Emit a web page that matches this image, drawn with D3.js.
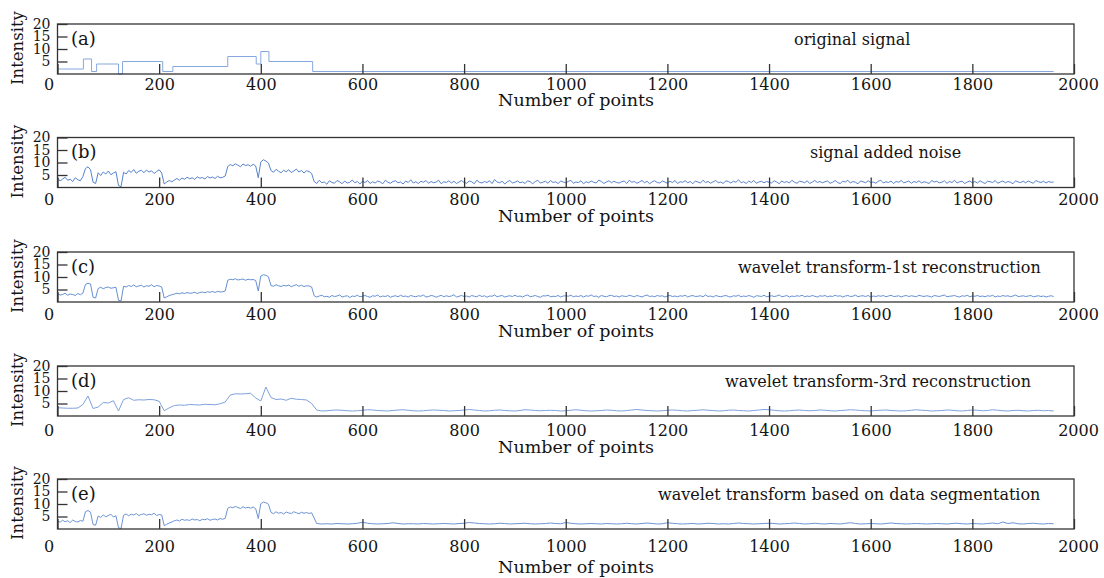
<!DOCTYPE html>
<html>
<head>
<meta charset="utf-8">
<title>Wavelet denoising</title>
<script src="https://cdn.jsdelivr.net/npm/d3@7"></script>
<style>
	body { margin: 0; background: #fff; }
	svg text { font-family: "DejaVu Serif", serif; fill: #141414; }
</style>
</head>
<body>
<div id="root"></div>
<script>
// axis ticks
const xTicks = [0, 200, 400, 600, 800, 1000, 1200, 1400, 1600, 1800, 2000];
const yTicks = [5, 10, 15, 20];

const panelLabels = ["(a)", "(b)", "(c)", "(d)", "(e)"];
const panelTitles = [
	"original signal",
	"signal added noise",
	"wavelet transform-1st reconstruction",
	"wavelet transform-3rd reconstruction",
	"wavelet transform based on data segmentation"
];

// (a) original signal, piecewise constant: start point and level of each segment
const origStarts = [0, 51, 67, 77, 120, 128, 207, 227, 335, 391, 400, 416, 502, 1960];
const origLevels = [2, 6, 1, 4, 0, 5, 1, 3, 7, 4, 9, 5, 1, 1];

// (b) signal added noise, one value every 5 points
const noisyValues = [
	3.8,2.6,3.4,4.1,2.9,3.3,2.4,3.9,3.1,2.7,4.4,
	7.6,8.3,7.1,
	2.1,1.6,
	5.9,4.8,6.2,5.4,6.6,5.1,5.8,6.3,
	0.8,0.3,
	6.1,5.4,6.8,6.0,7.2,5.7,6.5,6.9,5.9,7.0,6.2,6.7,5.6,6.4,7.1,5.8,
	1.4,2.2,2.8,2.3,
	3.0,3.6,2.9,3.8,3.3,4.1,3.5,3.9,3.2,4.3,3.7,4.0,3.4,4.4,3.8,4.2,3.6,4.5,3.9,4.1,4.6,
	8.4,9.2,8.7,9.5,8.9,8.3,9.4,8.8,9.1,8.5,9.3,8.6,
	3.9,
	10.2,11.1,10.6,9.8,
	6.8,6.1,7.3,6.5,5.9,6.9,6.3,7.1,6.0,6.6,7.4,6.2,6.8,5.8,6.7,6.4,5.6,
	2.4,1.6,2.9,1.9,2.2,1.3,2.7,2.0,1.7,2.8,2.3,1.5,2.6,1.8,2.1,3.0,1.9,2.4,1.4,2.5,
	2.0,2.8,1.6,2.3,1.8,2.6,2.2,1.5,2.9,2.1,1.7,2.4,2.7,1.9,2.2,1.4,2.6,2.0,3.1,1.8,
	2.3,1.6,2.5,2.1,2.8,1.7,2.4,1.9,2.2,2.9,1.5,2.3,2.0,2.7,1.8,2.5,1.6,2.2,2.8,2.0,
	1.7,2.6,2.3,1.5,2.9,2.1,1.8,2.4,2.0,2.7,1.6,3.2,2.2,1.9,2.5,1.4,2.3,2.8,1.8,2.1,
	2.6,1.9,2.2,1.6,2.7,2.3,1.5,2.4,2.9,1.8,2.1,2.5,1.7,2.8,2.0,2.3,1.6,2.6,2.2,1.9,
	2.4,2.9,1.7,2.2,2.0,2.7,1.5,2.3,1.9,2.6,2.1,1.8,3.0,2.4,1.6,2.2,2.7,1.9,2.5,2.0,
	1.8,2.3,2.6,1.6,2.9,2.1,2.4,1.7,2.2,2.8,1.9,2.5,1.5,2.3,2.7,2.0,1.8,2.6,2.2,1.7,
	2.5,2.0,2.8,1.6,2.3,2.1,2.7,1.9,2.4,1.5,2.6,2.2,1.8,2.9,2.0,2.4,1.7,2.3,2.8,1.9,
	2.2,1.6,2.7,2.4,1.8,2.5,2.1,3.1,1.9,2.3,1.6,2.6,2.0,2.8,1.7,2.2,2.5,1.9,2.4,2.1,
	1.8,2.7,2.2,1.5,2.6,2.0,2.4,1.8,2.9,2.1,1.7,2.5,2.3,1.9,2.7,1.6,2.2,2.8,2.0,2.4,
	1.9,2.3,2.6,1.7,2.1,2.8,2.0,1.6,2.5,2.2,2.9,1.8,2.4,2.1,1.5,2.6,2.3,1.9,2.7,2.0,
	2.2,1.7,2.5,2.9,1.8,2.3,2.0,2.6,1.6,2.4,2.1,2.8,1.9,2.2,2.6,1.7,2.4,2.0,2.7,1.8,
	2.3,2.0,1.6,2.8,2.2,2.5,1.9,2.1,2.7,1.7,2.4,2.0,2.9,1.8,2.3,2.5,1.6,2.2,2.6,1.9,
	2.4,1.8,2.7,2.1,1.6,2.5,2.3,2.0,2.8,1.7,2.2,2.6,1.9,2.4,2.1,1.5,2.7,2.2,2.0,2.5,
	1.9,2.6,2.1,1.7,2.8,2.3,2.0,2.5,1.8,2.4,2.1,2.2
];

// (c) 1st reconstruction, one value every 5 points
const recon1Values = [
	3.3,2.8,3.0,3.5,2.7,3.2,3.0,2.6,3.4,2.9,3.6,
	7.0,7.5,7.2,
	1.9,1.6,
	5.4,5.9,5.3,5.8,6.0,5.5,5.7,5.9,
	0.7,0.4,
	6.3,6.0,6.6,6.2,6.8,6.1,6.4,6.7,6.0,6.5,6.3,6.9,6.1,6.6,6.4,6.0,
	1.6,2.1,2.6,2.9,
	3.2,3.5,3.3,3.7,3.4,3.8,3.5,3.6,3.9,3.4,3.8,4.0,3.7,4.1,3.9,4.2,3.8,4.3,4.0,4.1,4.4,
	8.7,9.1,8.9,9.3,8.8,9.0,9.2,8.7,9.1,8.9,9.0,8.6,
	4.4,
	10.4,10.9,10.7,10.1,
	6.6,6.3,6.9,6.5,6.2,6.7,6.4,6.8,6.1,6.6,6.9,6.3,6.7,6.2,6.5,6.4,6.0,
	2.5,2.0,2.4,2.7,2.1,2.3,1.9,2.6,2.2,2.4,2.8,2.0,2.3,2.5,1.8,2.4,2.2,2.7,2.1,2.3,
	2.6,2.2,1.9,2.5,2.3,2.8,2.0,2.4,2.2,2.6,1.9,2.3,2.5,2.1,2.7,2.2,2.4,2.0,2.6,2.3,
	2.1,2.5,2.3,2.8,2.0,2.2,2.6,2.4,1.9,2.3,2.7,2.1,2.5,2.2,2.4,2.9,2.0,2.3,2.6,2.2,
	2.4,2.0,2.6,2.3,2.1,2.7,2.2,2.5,1.9,2.4,2.3,2.8,2.1,2.4,2.6,2.0,2.3,2.5,2.2,2.7,
	2.2,2.4,2.0,2.5,2.8,2.1,2.3,2.6,2.2,1.9,2.5,2.4,2.7,2.1,2.3,2.2,2.6,2.0,2.4,2.5,
	2.3,2.7,2.1,2.4,2.2,2.6,2.0,2.5,2.3,2.8,2.2,2.4,1.9,2.6,2.3,2.1,2.5,2.7,2.2,2.4,
	2.0,2.5,2.3,2.2,2.7,2.4,2.1,2.6,2.3,2.0,2.5,2.8,2.2,2.4,2.1,2.6,2.3,2.5,2.0,2.4,
	2.6,2.2,2.4,2.1,2.5,2.3,2.7,2.0,2.4,2.6,2.2,2.3,2.5,2.1,2.8,2.2,2.4,2.0,2.6,2.3,
	2.1,2.4,2.6,2.2,2.0,2.5,2.3,2.7,2.1,2.4,2.2,2.6,2.3,1.9,2.5,2.4,2.2,2.7,2.1,2.3,
	2.5,2.2,2.4,2.8,2.1,2.3,2.6,2.0,2.4,2.2,2.5,2.3,2.7,2.1,2.4,2.2,2.6,2.3,2.0,2.5,
	2.3,2.6,2.1,2.4,2.2,2.7,2.3,2.5,2.0,2.4,2.6,2.2,2.3,2.8,2.1,2.4,2.5,2.2,2.6,2.0,
	2.4,2.2,2.5,2.3,2.6,2.1,2.4,2.7,2.2,2.3,2.5,2.0,2.4,2.6,2.2,2.5,2.3,2.1,2.7,2.4,
	2.2,2.5,2.3,2.0,2.6,2.4,2.2,2.5,2.8,2.1,2.3,2.4,2.6,2.2,2.0,2.5,2.3,2.7,2.1,2.4,
	2.3,2.6,2.2,2.4,2.1,2.5,2.3,2.7,2.0,2.4,2.2,2.6,2.3,2.5,2.1,2.4,2.8,2.2,2.3,2.5,
	2.2,2.4,2.6,2.1,2.3,2.5,2.2,2.4,2.0,2.3,2.5,2.2
];

// (d) 3rd reconstruction, one value every 10 points
const recon3Values = [
	3.3,3.2,3.1,3.1,3.2,4.6,8.0,3.0,3.6,5.4,5.2,6.1,2.0,6.6,7.3,6.3,6.5,6.4,6.6,6.5,
	5.9,2.1,3.3,4.2,4.4,4.3,4.6,4.5,4.4,4.7,4.6,4.5,4.9,5.6,8.4,8.9,8.8,8.9,9.1,7.2,
	6.0,11.6,7.4,6.6,6.8,6.3,7.1,6.7,6.6,6.4,5.0,2.4,
	2.0,2.1,2.3,2.4,2.3,2.1,2.0,2.1,2.3,2.5,2.4,2.2,2.1,2.0,2.2,2.4,2.5,2.3,2.1,2.0,
	2.1,2.3,2.4,2.3,2.2,2.0,2.1,2.2,2.4,2.6,2.4,2.2,2.0,2.1,2.3,2.4,2.2,2.1,2.0,2.2,
	2.5,2.4,2.2,2.1,2.2,2.3,2.2,2.0,2.1,2.3,2.5,2.3,2.1,2.0,2.1,2.2,2.4,2.3,2.1,2.0,
	2.2,2.4,2.6,2.4,2.2,2.1,2.0,2.1,2.3,2.4,2.3,2.1,2.0,2.2,2.3,2.5,2.3,2.2,2.0,2.1,
	2.3,2.4,2.2,2.1,2.0,2.2,2.4,2.6,2.5,2.3,2.1,2.0,2.1,2.3,2.4,2.2,2.1,2.2,2.4,2.3,
	2.1,2.0,2.2,2.3,2.5,2.4,2.2,2.1,2.0,2.2,2.3,2.4,2.2,2.1,2.0,2.1,2.3,2.5,2.3,2.2,
	2.0,2.1,2.2,2.4,2.3,2.1,2.0,2.2,2.4,2.3,2.1,2.2,2.5,2.3,2.1,2.0,2.2,2.3,2.1,2.0,
	2.2,2.3,2.1,2.2,2.0
];

// (e) segmented transform: points 0..500 every 5, then 510..1960 every 10
const segHeadValues = [
	3.2,2.7,3.5,2.9,3.3,2.6,3.6,3.0,2.8,3.4,3.1,
	6.9,7.4,6.7,
	1.8,1.5,
	5.2,4.6,5.6,4.9,5.4,5.9,4.8,5.3,
	0.5,0.2,
	5.5,6.0,5.3,5.9,5.6,6.2,5.4,5.8,6.1,5.5,5.9,5.7,6.3,5.4,5.8,5.6,
	1.3,1.9,2.4,2.8,
	3.3,3.6,3.2,3.9,3.5,3.7,3.4,4.0,3.6,3.8,3.3,3.9,3.7,4.1,3.5,3.8,4.0,3.6,4.2,3.9,4.3,
	8.3,8.8,8.5,9.0,8.6,8.2,8.9,8.4,8.7,8.3,8.8,8.1,
	4.2,
	10.1,10.8,10.5,9.9,
	6.7,6.1,6.9,6.3,6.6,6.0,6.8,6.4,6.2,6.9,6.5,6.1,6.7,6.3,6.6,6.2,6.5
];
const segTailValues = [
	2.2,2.0,2.1,2.0,2.2,2.1,2.0,2.1,2.3,2.7,2.3,2.1,2.0,2.1,2.2,2.5,2.2,2.0,2.1,2.1,
	2.0,2.2,2.1,2.0,2.1,2.2,2.1,2.0,2.2,2.3,2.6,2.4,2.2,2.1,2.0,2.1,2.3,2.2,2.0,2.1,
	2.2,2.3,2.1,2.0,2.1,2.2,2.4,2.2,2.1,2.6,2.3,2.1,2.0,2.1,2.2,2.1,2.0,2.2,2.1,2.0,
	2.1,2.3,2.1,2.0,2.2,2.4,2.2,2.0,2.1,2.5,2.3,2.1,2.0,2.1,2.2,2.0,2.1,2.3,2.2,2.0,
	2.1,2.0,2.2,2.4,2.2,2.1,2.0,2.1,2.2,2.3,2.2,2.0,2.1,2.2,2.4,2.2,2.0,2.1,2.3,2.1,
	2.0,2.2,2.1,2.0,2.3,2.5,2.2,2.0,2.1,2.2,2.1,2.0,2.2,2.4,2.2,2.1,2.0,2.1,2.2,2.1,
	2.0,2.1,2.2,2.1,2.0,2.2,2.3,2.1,2.0,2.2,2.1,2.0,2.2,2.4,2.1,2.8,2.2,2.5,2.1,2.0,
	2.2,2.3,2.1,2.0,2.2,2.1
];

// build [point, value] series
const series = [
	origStarts.map((s, i) => [s, origLevels[i]]),
	noisyValues.map((v, i) => [i * 5, v]),
	recon1Values.map((v, i) => [i * 5, v]),
	recon3Values.map((v, i) => [i * 10, v]),
	segHeadValues.map((v, i) => [i * 5, v]).concat(segTailValues.map((v, i) => [510 + i * 10, v]))
];

//layout
const width = 1104;
const height = 578;
const left = 57.5;
const right = 1074;
const plotH = 50;
const tops = [24, 137.5, 252, 366, 479];
const tickPads = [5, 6, 7, 9, 11.5];
const xLabelDy = [32, 34, 35, 37, 44];
const titleX = [794, 810, 738, 725, 658];
const lineColors = ["#87a8df", "#5884cb", "#6690d2", "#7fa2dc", "#6d94d4"];

const svg = d3.select("#root")
	.append("svg")
	.attr("width", width)
	.attr("height", height);

const xScale = d3.scaleLinear()
	.domain([0, 2000])
	.range([left, right]);

series.forEach((data, p) => {
	const top = tops[p];
	const bottom = top + plotH;

	const yScale = d3.scaleLinear()
		.domain([0, 20])
		.range([bottom, top]);

	const g = svg.append("g");

	//signal line
	const line = d3.line()
		.x(d => xScale(d[0]))
		.y(d => yScale(d[1]))
		.curve(p === 0 ? d3.curveStepAfter : d3.curveLinear);

	g.append("path")
		.datum(data)
		.attr("d", line)
		.attr("fill", "none")
		.attr("stroke", lineColors[p])
		.attr("stroke-width", 1);

	//box round the plot
	g.append("rect")
		.attr("x", left)
		.attr("y", top)
		.attr("width", right - left)
		.attr("height", plotH)
		.attr("fill", "none")
		.attr("stroke", "#333")
		.attr("stroke-width", 1.3);

	//x axis, ticks pointing inward
	const xAxis = g.append("g")
		.attr("transform", "translate(0," + bottom + ")")
		.call(d3.axisBottom(xScale)
			.tickValues(xTicks)
			.tickSize(-10)
			.tickPadding(tickPads[p])
			.tickFormat(d3.format("d")));
	xAxis.select(".domain").remove();
	xAxis.selectAll("line").attr("stroke", "#333").attr("stroke-width", 1.3);
	xAxis.selectAll("text").attr("font-size", "16px");
	xAxis.selectAll("text").filter(d => d === 0).attr("dx", -9);
	xAxis.selectAll("text").filter(d => d === 2000).attr("dx", 4);

	//y axis, ticks pointing inward
	const yAxis = g.append("g")
		.attr("transform", "translate(" + left + ",0)")
		.call(d3.axisLeft(yScale)
			.tickValues(yTicks)
			.tickSize(-10)
			.tickPadding(7));
	yAxis.select(".domain").remove();
	yAxis.selectAll("line").attr("stroke", "#333").attr("stroke-width", 1.3);
	yAxis.selectAll("text").attr("font-size", "14px");

	//panel letter
	g.append("text")
		.attr("x", 71)
		.attr("y", top + 20.5)
		.attr("font-size", "18px")
		.text(panelLabels[p]);

	//panel title
	g.append("text")
		.attr("x", titleX[p])
		.attr("y", top + 20.5)
		.attr("font-size", "16px")
		.text(panelTitles[p]);

	//Y Axis Label
	g.append("text")
		.attr("transform", "translate(18," + (top + 24) + ") rotate(-90)")
		.attr("text-anchor", "middle")
		.attr("dominant-baseline", "middle")
		.attr("font-size", "16.5px")
		.text("Intensity");

	//X Axis Label
	g.append("text")
		.attr("x", 576)
		.attr("y", bottom + xLabelDy[p])
		.attr("text-anchor", "middle")
		.attr("font-size", "17.5px")
		.text("Number of points");
});
</script>
</body>
</html>
